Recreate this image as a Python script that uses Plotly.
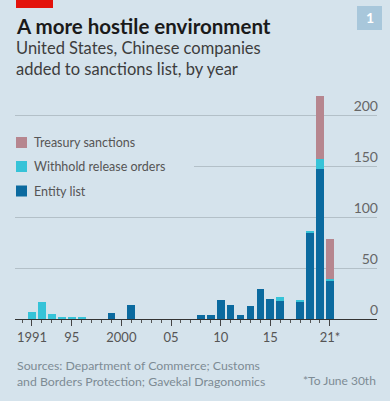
import plotly.graph_objects as go

years = list(range(1990, 2022))
entity_list = [0, 0, 0, 0, 0, 0, 0, 0, 0, 6, 0, 14, 0, 0, 0, 0, 0, 0, 4, 4,
               19, 14, 4, 13, 29, 20, 18, 0, 17, 85, 147, 37]
withhold = [0, 7, 17, 5, 1, 2, 1, 0, 0, 0, 0, 0, 0, 0, 0, 0, 0, 0, 0, 0,
            0, 0, 0, 0, 0, 0, 4, 0, 1, 1, 10, 2]
treasury = [0, 0, 0, 0, 0, 0, 0, 0, 0, 0, 0, 0, 0, 0, 0, 0, 0, 0, 0, 0,
            0, 0, 0, 0, 0, 0, 0, 0, 0, 0, 62, 40]

series_names = ["Entity list", "Withhold release orders", "Treasury sanctions"]
series_values = [entity_list, withhold, treasury]
series_colors = ["#0b6a9f", "#36c3d8", "#b6868f"]

x_tick_vals = [1991, 1995, 2000, 2005, 2010, 2015, 2021]
x_tick_text = ["1991", "95", "2000", "05", "10", "15", "21*"]
y_tick_vals = [0, 50, 100, 150, 200]

BG = "#d5e3ec"
W, H = 390, 401
L, R, T, B = 15, 13, 90, 82
PW, PH = W - L - R, H - T - B
FONT = "Lato"


def px(xp):
    return (xp - L) / PW


def py(yp):
    return (H - B - yp) / PH


fig = go.Figure()
for name, vals, col in zip(series_names, series_values, series_colors):
    fig.add_trace(go.Bar(x=years, y=vals, name=name, marker_color=col,
                         marker_line_width=0, width=0.78, showlegend=False))

fig.update_layout(
    width=W, height=H,
    margin=dict(l=L, r=R, t=T, b=B, pad=0),
    paper_bgcolor=BG, plot_bgcolor=BG,
    barmode="stack",
    font=dict(family=FONT, color="#555555"),
)

fig.update_xaxes(
    range=[1989.29, 2025.74],
    tickvals=x_tick_vals, ticktext=x_tick_text,
    ticks="outside", ticklen=6, tickwidth=1, tickcolor="#444444",
    showline=True, linecolor="#333333", linewidth=1.2,
    showgrid=False, zeroline=False,
    tickfont=dict(size=13, color="#555555", family=FONT),
    minor=dict(tickvals=years, ticks="outside", ticklen=3, tickcolor="#555555", tickwidth=1),
)
fig.update_yaxes(
    range=[0, PH / 1.018],
    tickvals=y_tick_vals,
    side="right", ticklabelposition="inside", ticks="",
    ticklabelshift=-9, ticklabelstandoff=-4,
    showgrid=True, gridcolor="#b3c0c8", gridwidth=1,
    zeroline=False, showline=False,
    tickfont=dict(size=14, color="#666666", family=FONT),
)

shapes = []
# legend background masking gridlines
shapes.append(dict(type="rect", xref="paper", yref="paper",
                   x0=px(15), x1=px(194), y0=py(200), y1=py(130),
                   fillcolor=BG, line_width=0, layer="above"))
legend_order = [2, 1, 0]
legend_y = [142.5, 166.5, 191]
anns = []
for idx, yc in zip(legend_order, legend_y):
    shapes.append(dict(type="rect", xref="paper", yref="paper",
                       x0=px(16), x1=px(27), y0=py(yc + 5.5), y1=py(yc - 5.5),
                       fillcolor=series_colors[idx], line_width=0, layer="above"))
    anns.append(dict(text=series_names[idx], xref="paper", yref="paper",
                     x=px(32), y=py(yc), xanchor="left", yanchor="middle",
                     showarrow=False, font=dict(size=12.5, color="#555555", family=FONT)))

# red tag
shapes.append(dict(type="rect", xref="paper", yref="paper",
                   x0=px(16), x1=px(53), y0=py(8), y1=py(0),
                   fillcolor="#e3120b", line_width=0))
# number box
shapes.append(dict(type="rect", xref="paper", yref="paper",
                   x0=px(357), x1=px(382), y0=py(30), y1=py(6),
                   fillcolor="#a8c7db", line_width=0))
anns.append(dict(text="<b>1</b>", xref="paper", yref="paper", x=px(369.5), y=py(18),
                 xanchor="center", yanchor="middle", showarrow=False,
                 font=dict(size=14, color="#ffffff", family=FONT)))

anns.append(dict(text="<b>A more hostile environment</b>", xref="paper", yref="paper",
                 x=px(14), y=py(26), xanchor="left", yanchor="middle", showarrow=False,
                 font=dict(size=20.5, color="#1a1a1a", family=FONT)))
anns.append(dict(text="United States, Chinese companies<br>added to sanctions list, by year",
                 xref="paper", yref="paper", x=px(14), y=py(36), xanchor="left", yanchor="top",
                 align="left", showarrow=False,
                 font=dict(size=16.5, color="#3d3d3d", family=FONT)))
anns.append(dict(text="Sources: Department of Commerce; Customs<br>and Borders Protection; Gavekal Dragonomics",
                 xref="paper", yref="paper", x=px(15), y=py(356), xanchor="left", yanchor="top",
                 align="left", showarrow=False,
                 font=dict(size=12.3, color="#7d8b94", family=FONT)))
anns.append(dict(text="*To June 30th", xref="paper", yref="paper", x=px(378), y=py(380),
                 xanchor="right", yanchor="middle", showarrow=False,
                 font=dict(size=12, color="#7d8b94", family=FONT)))

fig.update_layout(shapes=shapes, annotations=anns)
fig.write_html("out.html", config={"displayModeBar": False},
               post_script="document.body.style.margin='0';document.body.style.overflow='hidden';")
